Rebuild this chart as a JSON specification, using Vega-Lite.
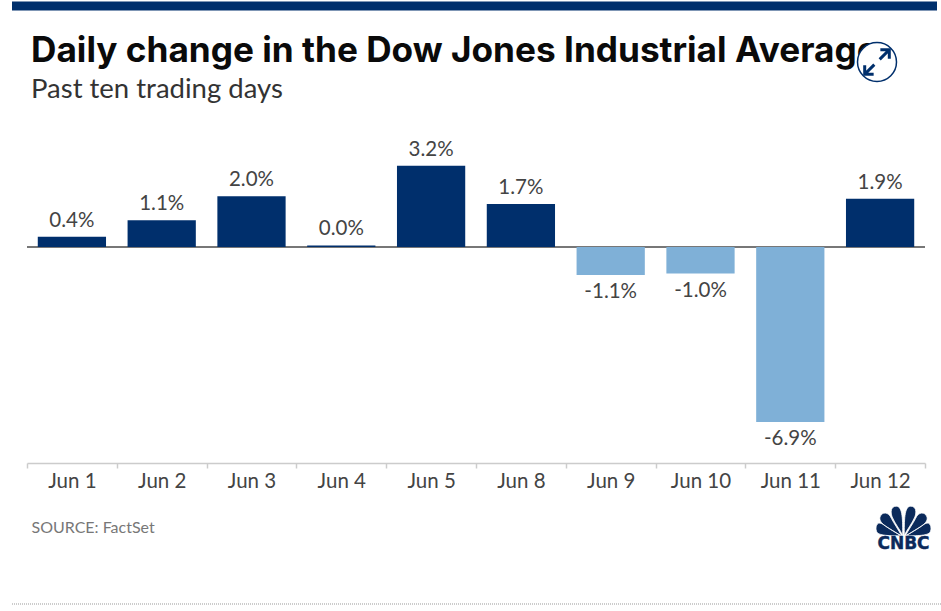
{"$schema":"https://vega.github.io/schema/vega-lite/v6.json","width":898,"height":332,"autosize":{"type":"none"},"padding":{"left":27,"top":131,"right":16,"bottom":148},"background":"white","config":{"view":{"stroke":null},"font":"Lato"},
"data":{"values":[{"day":"Jun 1","change":0.4,"label":"0.4%"},{"day":"Jun 2","change":1.05,"label":"1.1%"},{"day":"Jun 3","change":2.0,"label":"2.0%"},{"day":"Jun 4","change":0.06,"label":"0.0%"},{"day":"Jun 5","change":3.2,"label":"3.2%"},{"day":"Jun 8","change":1.7,"label":"1.7%"},{"day":"Jun 9","change":-1.1,"label":"-1.1%"},{"day":"Jun 10","change":-1.05,"label":"-1.0%"},{"day":"Jun 11","change":-6.9,"label":"-6.9%"},{"day":"Jun 12","change":1.9,"label":"1.9%"}]},
"resolve":{"scale":{"x":"independent","y":"independent","color":"independent"}},
"layer":[
{"encoding":{"x":{"field":"day","type":"ordinal","sort":null,"scale":{"paddingInner":0,"paddingOuter":0},"axis":{"title":"SOURCE: FactSet","titleAnchor":"start","titleAlign":"left","titleX":4,"titleY":56,"titleFont":"Lato","titleFontWeight":400,"titleFontSize":16,"titleColor":"#777777","labelAngle":0,"labelFont":"Lato","labelFontSize":20.5,"labelColor":"#444444","labelPadding":3,"domainColor":"#cccccc","domainWidth":1.5,"tickColor":"#cccccc","tickWidth":1.5,"tickSize":5,"tickBand":"extent","grid":false}},"y":{"field":"change","type":"quantitative","scale":{"domain":[-8.52,4.575],"nice":false,"zero":false},"axis":null}},
"layer":[
{"mark":{"type":"rule","strokeWidth":1},"encoding":{"x":{"value":0},"x2":{"value":898},"y":{"datum":0},"color":{"value":"#777777"}}},
{"mark":{"type":"bar","width":{"band":0.76}},"encoding":{"y2":{"datum":0},"color":{"condition":{"test":"datum.change < 0","value":"#7fb0d7"},"value":"#002f6c"}}},
{"transform":[{"filter":"datum.change >= 0"}],"mark":{"type":"text","baseline":"bottom","dy":-6,"fontSize":20.5,"color":"#444444"},"encoding":{"text":{"field":"label"}}},
{"transform":[{"filter":"datum.change < 0"}],"mark":{"type":"text","baseline":"top","dy":7,"fontSize":20.5,"color":"#444444"},"encoding":{"text":{"field":"label"}}}
]},
{"data":{"values":[{"frame":1}]},"encoding":{"x":{"datum":12,"type":"quantitative","scale":{"domain":[27,925],"nice":false,"zero":false},"axis":null},"y":{"datum":6,"type":"quantitative","scale":{"domain":[463,131],"nice":false,"zero":false},"axis":null}},
"layer":[
{"mark":{"type":"rule","color":"#002f6c","strokeWidth":9},"encoding":{"x":{"datum":12,"type":"quantitative"},"x2":{"datum":937},"y":{"datum":6,"type":"quantitative"}}},
{"mark":{"type":"rule","color":"#999999","strokeWidth":1,"strokeDash":[1,1]},"encoding":{"x":{"datum":12,"type":"quantitative"},"x2":{"datum":941},"y":{"datum":604,"type":"quantitative"}}},
{"mark":{"type":"text","text":"Daily change in the Dow Jones Industrial Average","font":"Inter","fontWeight":700,"fontSize":35.2,"color":"#0a0a0a","align":"left","baseline":"alphabetic"},"encoding":{"x":{"datum":31,"type":"quantitative"},"y":{"datum":62,"type":"quantitative"}}},
{"mark":{"type":"text","text":"Past ten trading days","font":"Lato","fontSize":27.5,"color":"#333333","align":"left","baseline":"alphabetic"},"encoding":{"x":{"datum":31,"type":"quantitative"},"y":{"datum":98,"type":"quantitative"}}},
{"mark":{"type":"point","shape":"circle","filled":true,"fill":"white","stroke":"#002f6c","strokeWidth":1.5,"size":1520,"opacity":1},"encoding":{"x":{"datum":877,"type":"quantitative"},"y":{"datum":62,"type":"quantitative"}}},
{"mark":{"type":"point","filled":false,"stroke":"#002f6c","strokeWidth":3,"size":2000,"opacity":1,"shape":"M0.15 -0.55 L0.55 -0.55 L0.55 -0.15 M0.55 -0.55 L0.12 -0.12 M-0.55 0.15 L-0.55 0.55 L-0.15 0.55 M-0.55 0.55 L-0.12 0.12"},"encoding":{"x":{"datum":877,"type":"quantitative"},"y":{"datum":62,"type":"quantitative"}}},
{"mark":{"type":"point","filled":true,"fill":"#0b2a5b","stroke":"white","strokeWidth":0.8,"size":2916,"opacity":1,"shape":"M-0.03 0.55 C-0.03 0 -0.02 -0.55 -0.27 -0.55 C-0.45 -0.55 -0.5 -0.35 -0.42 -0.15 C-0.32 0.1 -0.1 0.35 -0.03 0.55 Z M-0.07 0.55 C-0.2 0.3 -0.35 0.1 -0.45 -0.1 C-0.55 -0.35 -0.8 -0.35 -0.87 -0.15 C-0.92 0.05 -0.7 0.2 -0.07 0.55 Z M-0.1 0.55 C-0.4 0.35 -0.65 0.2 -0.8 0.1 C-1 0 -1.05 0.25 -1 0.38 C-0.95 0.5 -0.8 0.55 -0.1 0.55 Z M0.03 0.55 C0.03 0 0.02 -0.55 0.27 -0.55 C0.45 -0.55 0.5 -0.35 0.42 -0.15 C0.32 0.1 0.1 0.35 0.03 0.55 Z M0.07 0.55 C0.2 0.3 0.35 0.1 0.45 -0.1 C0.55 -0.35 0.8 -0.35 0.87 -0.15 C0.92 0.05 0.7 0.2 0.07 0.55 Z M0.1 0.55 C0.4 0.35 0.65 0.2 0.8 0.1 C1 0 1.05 0.25 1 0.38 C0.95 0.5 0.8 0.55 0.1 0.55 Z"},"encoding":{"x":{"datum":903.5,"type":"quantitative"},"y":{"datum":521,"type":"quantitative"}}},
{"mark":{"type":"text","text":"CNBC","font":"DejaVu Sans","fontWeight":700,"fontSize":17,"color":"#0b2a5b","stroke":"#0b2a5b","strokeWidth":0.4,"align":"center","baseline":"middle"},"encoding":{"x":{"datum":903.5,"type":"quantitative"},"y":{"datum":544,"type":"quantitative"}}}
]}
]}
